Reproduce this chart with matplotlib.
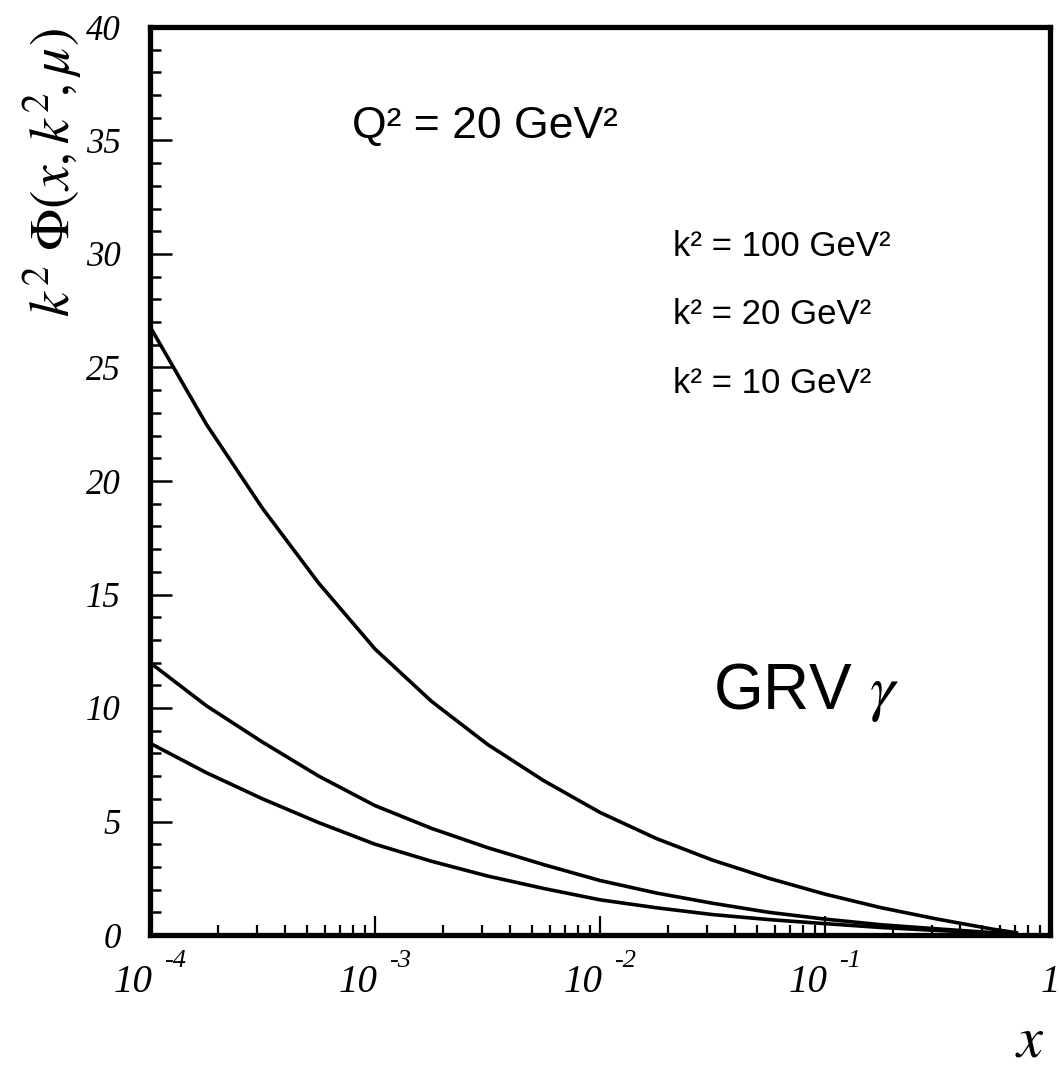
import numpy as np
import matplotlib
matplotlib.use("Agg")
import matplotlib.pyplot as plt
from matplotlib.ticker import LogLocator, MultipleLocator, NullFormatter
from matplotlib.transforms import blended_transform_factory, offset_copy

plt.rcParams['mathtext.fontset'] = 'stix'

# values, every quarter decade in x
x_vals = [1.0e-4, 1.78e-4, 3.16e-4, 5.62e-4, 1.0e-3, 1.78e-3, 3.16e-3, 5.62e-3,
          1.0e-2, 1.78e-2, 3.16e-2, 5.62e-2, 0.1, 0.178, 0.316, 0.562, 0.708]
y_k100 = [26.8, 22.5, 18.8, 15.5, 12.6, 10.3, 8.4, 6.8,
          5.4, 4.25, 3.3, 2.5, 1.8, 1.2, 0.7, 0.25, 0.1]
y_k20 = [12.0, 10.1, 8.5, 7.0, 5.7, 4.7, 3.85, 3.1,
         2.4, 1.85, 1.4, 1.0, 0.7, 0.45, 0.27, 0.1, 0.05]
y_k10 = [8.45, 7.15, 6.0, 4.95, 4.0, 3.25, 2.6, 2.05,
         1.55, 1.2, 0.9, 0.68, 0.5, 0.33, 0.2, 0.08, 0.04]

k2_labels = ['k² = 100 GeV²', 'k² = 20 GeV²', 'k² = 10 GeV²']
decade_exps = ['-4', '-3', '-2', '-1']
y_ticks = [0, 5, 10, 15, 20, 25, 30, 35, 40]

fig = plt.figure(figsize=(10.59, 10.70), dpi=100)
ax = fig.add_axes([150/1059, 135/1070, 900/1059, 908/1070])

for yv in (y_k100, y_k20, y_k10):
    ax.plot(x_vals, yv, color='black', lw=2.6, solid_joinstyle='round')

ax.set_xscale('log')
ax.set_xlim(1e-4, 1)
ax.set_ylim(0, 40)

for sp in ax.spines.values():
    sp.set_linewidth(3.8)

# y axis
ax.set_yticks(y_ticks)
ax.set_yticklabels([str(v) for v in y_ticks], fontsize=25,
                   family='Liberation Serif', style='italic')
ax.yaxis.set_minor_locator(MultipleLocator(1))
ax.tick_params(axis='y', which='major', direction='in', length=16, width=1.8,
               pad=21, right=False)
ax.tick_params(axis='y', which='minor', direction='in', length=8, width=1.8,
               right=False)

# x axis
ax.xaxis.set_major_locator(LogLocator(base=10, numticks=10))
ax.xaxis.set_minor_locator(LogLocator(base=10, subs=np.arange(2, 10), numticks=20))
ax.xaxis.set_major_formatter(NullFormatter())
ax.xaxis.set_minor_formatter(NullFormatter())
ax.tick_params(axis='x', which='major', direction='in', length=14, width=1.6, top=False)
ax.tick_params(axis='x', which='minor', direction='in', length=7, width=1.6, top=False)

# x tick labels drawn as 10 with raised exponent
trans = blended_transform_factory(ax.transData, ax.transAxes)
t_base = offset_copy(trans, fig=fig, x=3, y=0, units='dots')
t_exp = offset_copy(trans, fig=fig, x=14, y=0, units='dots')
for e in decade_exps:
    xv = 10.0 ** int(e)
    ax.text(xv, -0.063, '10', transform=t_base, ha='right', va='baseline',
            fontsize=28, family='Liberation Serif', style='italic')
    ax.text(xv, -0.035, e, transform=t_exp, ha='left', va='baseline',
            fontsize=19, family='Liberation Serif', style='italic')
ax.text(1.0, -0.063, '1', transform=trans, ha='center', va='baseline',
        fontsize=28, family='Liberation Serif', style='italic')

# axis titles
fig.text(52/1059, 1 - 173/1070, r'$k^2\ \Phi(x,k^2\!,\mu)$', rotation=90,
         ha='center', va='center', fontsize=40)
fig.text(1030/1059, 1 - 1040/1070, r'$x$', ha='center', va='center', fontsize=42)

# annotations
fig.text(485/1059, 1 - 127/1070, 'Q² = 20 GeV²', ha='center', va='center',
         fontsize=32, family='Liberation Sans')
for i, lab in enumerate(k2_labels):
    fig.text(673/1059, 1 - (247 + 68*i)/1070, lab, ha='left', va='center',
             fontsize=25, family='Liberation Sans')
fig.text(713/1059, 1 - 692/1070, r'GRV $\gamma$', ha='left', va='center',
         fontsize=46, family='Liberation Sans')

fig.savefig('out.png', dpi=100)
